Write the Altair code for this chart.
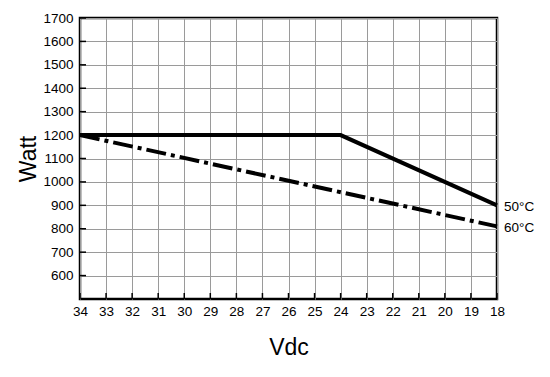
import altair as alt
import pandas as pd

# data
vdc_50 = [34, 24, 18]
watt_50 = [1200, 1200, 900]
vdc_60 = [34, 18]
watt_60 = [1200, 810]
series_labels = ["50°C", "60°C"]
x_ticks = list(range(18, 35))
y_ticks = list(range(600, 1800, 100))

W, H = 417, 281

df50 = pd.DataFrame({"vdc": vdc_50, "watt": watt_50})
df60 = pd.DataFrame({"vdc": vdc_60, "watt": watt_60})
lab = pd.DataFrame({"vdc": [vdc_50[-1], vdc_60[-1]], "watt": [watt_50[-1], watt_60[-1]], "t": series_labels})
dfx = pd.DataFrame({"vdc": x_ticks})
dfy = pd.DataFrame({"watt": y_ticks})

xs = alt.Scale(domain=[34, 18], nice=False, zero=False)
ys = alt.Scale(domain=[500, 1700], nice=False, zero=False)

xax = alt.Axis(values=x_ticks, title="Vdc", grid=True, gridColor="#9a9a9a", gridWidth=1,
               ticks=False, domain=False, labelPadding=5, labelFontSize=13.5,
               labelFont="Liberation Sans", labelColor="#000", titleFont="Liberation Sans",
               titleFontSize=23, titleFontWeight="normal", titleColor="#000",
               titleY=48, titleBaseline="middle", labelFlush=False, labelOverlap=False,
               format="d", tickCount=17)
yax = alt.Axis(values=y_ticks, title="Watt", grid=True, gridColor="#9a9a9a", gridWidth=1,
               ticks=False, domain=False, labelPadding=7, labelFontSize=13.5,
               labelFont="Liberation Sans", labelColor="#000", titleFont="Liberation Sans",
               titleFontSize=23, titleFontWeight="normal", titleColor="#000",
               titleX=-52, titleBaseline="middle", titleAngle=-90, labelOverlap=False,
               format="d", labelFlush=False, tickCount=12)

X = alt.X("vdc:Q", scale=xs, axis=xax, title="Vdc")
Y = alt.Y("watt:Q", scale=ys, axis=yax, title="Watt")

xt = alt.Chart(dfx).mark_rule(color="#000", strokeWidth=1.5).encode(
    x=X, y=alt.value(H), y2=alt.value(H - 6))
yt = alt.Chart(dfy).mark_rule(color="#000", strokeWidth=1.5).encode(
    y=Y, x=alt.value(0), x2=alt.value(6))

l50 = alt.Chart(df50).mark_line(color="#000", strokeWidth=4, strokeCap="butt").encode(
    x=X, y=Y)
l60 = alt.Chart(df60).mark_line(color="#000", strokeWidth=4, strokeCap="butt",
                                strokeDash=[20, 5, 4, 5]).encode(x=X, y=Y)

txt = alt.Chart(lab).mark_text(align="left", baseline="middle", dx=7, dy=2, fontSize=13.5,
                               font="Liberation Sans", color="#000").encode(
    x=X, y=Y, text="t:N")

chart = alt.layer(l50, xt, yt, l60, txt).properties(
    width=W, height=H,
    autosize=alt.AutoSizeParams(type="none"),
    padding={"left": 72, "top": 10, "right": 45, "bottom": 70},
    background="#ffffff",
).configure_view(stroke="#000", strokeWidth=2.5)

chart.save("out.html", embed_options={"renderer": "svg", "actions": False})
